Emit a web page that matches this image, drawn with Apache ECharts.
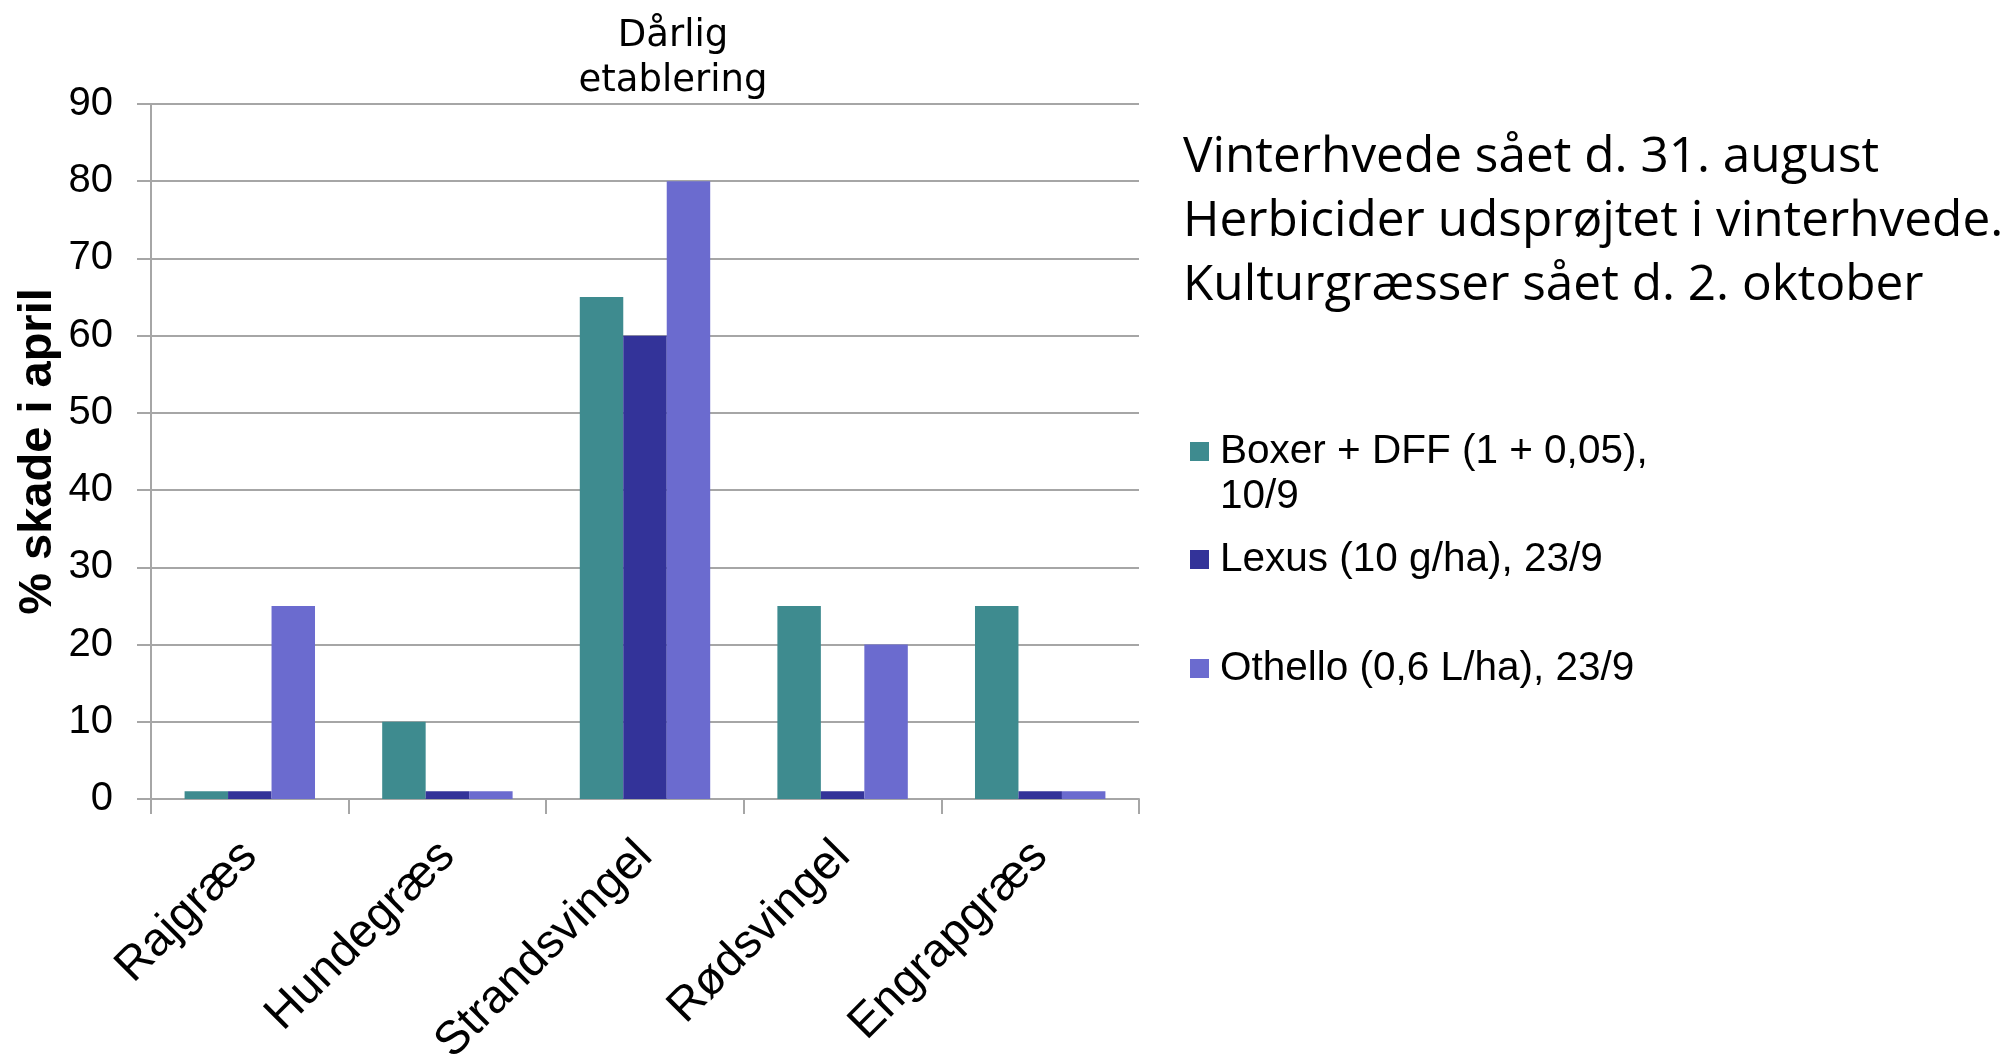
<!DOCTYPE html>
<html>
<head>
<meta charset="utf-8">
<script src="https://cdn.jsdelivr.net/npm/echarts@6/dist/echarts.min.js"></script>
<style>html,body{margin:0;padding:0;background:#fff;}#c{width:2011px;height:1055px;}</style>
</head>
<body>
<div id="c"></div>
<script>
const categories = ['Rajgræs', 'Hundegræs', 'Strandsvingel', 'Rødsvingel', 'Engrapgræs'];
const seriesNames = ['Boxer + DFF (1 + 0,05), 10/9', 'Lexus (10 g/ha), 23/9', 'Othello (0,6 L/ha), 23/9'];
const boxerValues = [1, 10, 65, 25, 25];
const lexusValues = [1, 1, 60, 1, 1];
const othelloValues = [25, 1, 80, 20, 1];
const yTicks = [0, 10, 20, 30, 40, 50, 60, 70, 80, 90];
const yAxisTitle = '% skade i april';
const noteText = 'Dårlig\netablering';
const infoText = 'Vinterhvede sået d. 31. august\nHerbicider udsprøjtet i vinterhvede.\nKulturgræsser sået d. 2. oktober';
const colors = ['#3e8b8f', '#333399', '#6b6bcf'];

const chart = echarts.init(document.getElementById('c'));
const gridColor = '#a6a6a6';
const legendBase = {
  orient: 'vertical', left: 1190, padding: 0, itemWidth: 19, itemHeight: 19,
  icon: 'rect', selectedMode: false,
  textStyle: { fontFamily: 'Liberation Sans', fontSize: 40.5, color: '#000', lineHeight: 45, padding: [0, 0, 0, 6] }
};
chart.setOption({
  animation: false,
  backgroundColor: '#fff',
  color: colors,
  title: [
    { text: noteText, left: 673, top: 14, textAlign: 'center', padding: 0,
      textStyle: { fontFamily: 'DejaVu Sans', fontSize: 37, fontWeight: 'normal', color: '#000', lineHeight: 45, align: 'center' } },
    { text: infoText, left: 1183, top: 126, padding: 0,
      textStyle: { fontFamily: 'Open Sans', fontSize: 49.5, fontWeight: 'normal', color: '#000', lineHeight: 64 } }
  ],
  legend: [
    Object.assign({}, legendBase, { top: 384, data: [seriesNames[0]],
      formatter: n => '\n' + n.replace(', 10/9', ',\n10/9') }),
    Object.assign({}, legendBase, { top: 537, data: [seriesNames[1]] }),
    Object.assign({}, legendBase, { top: 646, data: [seriesNames[2]] })
  ],
  grid: { left: 151, right: 872, top: 104, bottom: 256, containLabel: false, outerBoundsMode: 'none' },
  xAxis: {
    type: 'category', data: categories,
    axisLine: { lineStyle: { color: gridColor, width: 2 } },
    axisTick: { show: true, length: 15, alignWithLabel: false, interval: 0, lineStyle: { color: gridColor, width: 2 } },
    axisLabel: { interval: 0, rotate: 45, margin: 50, fontFamily: 'Liberation Sans', fontSize: 47, color: '#000' }
  },
  yAxis: {
    type: 'value', min: yTicks[0], max: yTicks[yTicks.length - 1], interval: yTicks[1] - yTicks[0],
    name: yAxisTitle, nameLocation: 'middle', nameGap: 89, nameRotate: 90,
    nameTextStyle: { fontFamily: 'Liberation Sans', fontSize: 47, fontWeight: 'bold', color: '#000' },
    axisLine: { show: true, lineStyle: { color: gridColor, width: 2 } },
    axisTick: { show: true, length: 14, lineStyle: { color: gridColor, width: 2 } },
    splitLine: { show: true, lineStyle: { color: gridColor, width: 2 } },
    axisLabel: { margin: 38, fontFamily: 'Liberation Sans', fontSize: 40, color: '#000' }
  },
  series: [
    { name: seriesNames[0], type: 'bar', data: boxerValues, barGap: '0%', barCategoryGap: '34%' },
    { name: seriesNames[1], type: 'bar', data: lexusValues, barGap: '0%', barCategoryGap: '34%' },
    { name: seriesNames[2], type: 'bar', data: othelloValues, barGap: '0%', barCategoryGap: '34%' }
  ]
});
</script>
</body>
</html>
